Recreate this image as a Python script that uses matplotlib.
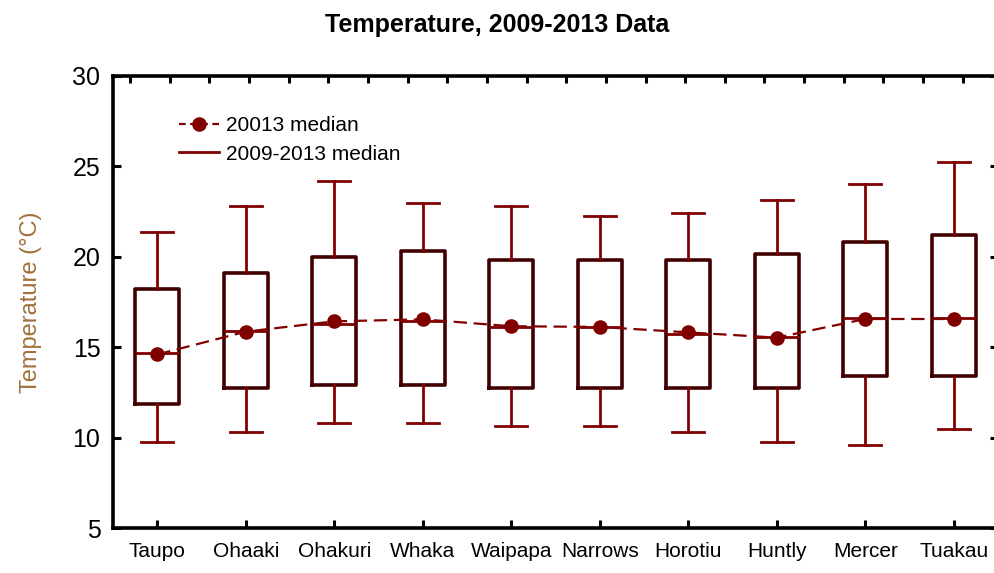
import matplotlib
matplotlib.use("Agg")
import matplotlib.pyplot as plt
import numpy as np
from matplotlib.lines import Line2D

plt.rcParams['font.family'] = ['Liberation Sans', 'DejaVu Sans']

sites = ["Taupo", "Ohaaki", "Ohakuri", "Whaka", "Waipapa", "Narrows",
         "Horotiu", "Huntly", "Mercer", "Tuakau"]
whisker_low = [9.74, 10.29, 10.79, 10.79, 10.64, 10.64, 10.29, 9.74, 9.59, 10.46]
box_q1 = [11.84, 12.72, 12.91, 12.91, 12.72, 12.72, 12.72, 12.72, 13.43, 13.43]
median_0913 = [14.66, 15.91, 16.28, 16.43, 16.12, 16.12, 15.73, 15.58, 16.60, 16.60]
box_q3 = [18.20, 19.09, 19.97, 20.30, 19.81, 19.81, 19.81, 20.14, 20.84, 21.19]
whisker_high = [21.35, 22.79, 24.17, 22.96, 22.79, 22.24, 22.44, 23.12, 24.01, 25.23]
median_2013 = [14.60, 15.86, 16.43, 16.54, 16.16, 16.12, 15.82, 15.53, 16.56, 16.56]

yticks = [5, 10, 15, 20, 25, 30]

W, H = 995, 573
fig = plt.figure(figsize=(W / 100, H / 100), dpi=100)
ax = fig.add_axes([113 / W, 1 - 528 / H, (998 - 113) / W, (528 - 76) / H])

box_edge = '#400000'
maroon = '#800000'

stats = []
for i in range(len(sites)):
    stats.append(dict(whislo=whisker_low[i], q1=box_q1[i], med=median_0913[i],
                      q3=box_q3[i], whishi=whisker_high[i], fliers=[]))
pos = np.arange(len(sites))
ax.bxp(stats, positions=pos, widths=0.5, capwidths=0.36, showfliers=False,
       boxprops=dict(color=box_edge, linewidth=2.6),
       whiskerprops=dict(color=maroon, linewidth=2.0),
       capprops=dict(color=maroon, linewidth=2.0),
       medianprops=dict(color=maroon, linewidth=2.0),
       manage_ticks=False)

ax.plot(pos, median_2013, color=maroon, linestyle=(0, (6, 3)), linewidth=1.6,
        marker='o', markersize=10.5, markeredgewidth=0, zorder=5)

h1 = Line2D([], [], color=maroon, linestyle=(0, (3, 2)), linewidth=1.6,
            marker='o', markersize=10.5, markeredgewidth=0)
h2 = Line2D([], [], color=maroon, linewidth=2.0)
ax.legend([h1, h2], ["20013 median", "2009-2013 median"], loc='upper left',
          bbox_to_anchor=(0.0746, 0.911), frameon=False, fontsize=15,
          handlelength=1.9, handletextpad=0.35, labelspacing=0.45,
          borderpad=0, borderaxespad=0, numpoints=1)

ax.set_xlim(-0.5, 9.5)
ax.set_ylim(5, 30)
ax.set_yticks(yticks)
ax.set_yticklabels([str(v) for v in yticks], fontsize=18)
ax.set_xticks(pos)
ax.set_xticklabels(sites, fontsize=15)
ax.tick_params(axis='x', direction='in', length=6, width=2.2, pad=10, top=False)
ax.tick_params(axis='y', direction='in', length=6, width=2.2, pad=9, right=True)
for s in ax.spines.values():
    s.set_linewidth(2.6)

top = ax.twiny()
top.set_xlim(-0.43, 21.89)
top.set_xticks(np.arange(22))
top.tick_params(axis='x', direction='in', length=5, width=2.2, labeltop=False)
for s in top.spines.values():
    s.set_visible(False)

ax.set_ylabel("Temperature (°C)", fontsize=17, color='#a0703c', labelpad=22)

fig.text(497 / W, 1 - 25 / H, "Temperature, 2009-2013 Data", ha='center',
         va='center', fontsize=18, fontweight='bold')

fig.savefig("out.png", dpi=100)
